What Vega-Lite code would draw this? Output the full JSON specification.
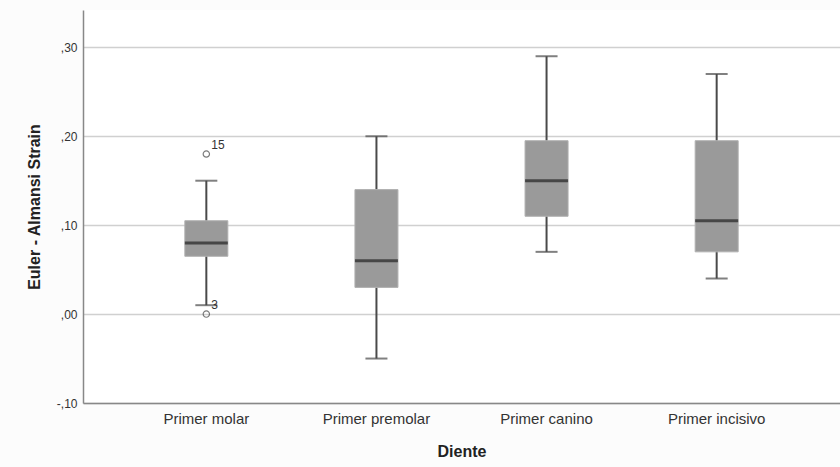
{
  "$schema": "https://vega.github.io/schema/vega-lite/v6.json",
  "autosize": "none",
  "width": 757,
  "height": 393,
  "padding": {"left": 83, "top": 10, "right": 0, "bottom": 64},
  "background": "#fcfcfc",
  "config": {
    "view": {"stroke": null, "fill": "#ffffff"},
    "font": "Liberation Sans"
  },
  "datasets": {
    "boxes": [
      {"Diente": "Primer molar", "min": 0.01, "q1": 0.065, "median": 0.08, "q3": 0.105, "max": 0.15},
      {"Diente": "Primer premolar", "min": -0.05, "q1": 0.03, "median": 0.06, "q3": 0.14, "max": 0.20},
      {"Diente": "Primer canino", "min": 0.07, "q1": 0.11, "median": 0.15, "q3": 0.195, "max": 0.29},
      {"Diente": "Primer incisivo", "min": 0.04, "q1": 0.07, "median": 0.105, "q3": 0.195, "max": 0.27}
    ],
    "outliers": [
      {"Diente": "Primer molar", "value": 0.18, "label": "15"},
      {"Diente": "Primer molar", "value": 0.0, "label": "3"}
    ]
  },
  "encoding": {
    "x": {
      "field": "Diente",
      "type": "nominal",
      "sort": ["Primer molar", "Primer premolar", "Primer canino", "Primer incisivo"],
      "scale": {"paddingInner": 0, "paddingOuter": 0.225},
      "axis": {
        "title": "Diente",
        "titleFontSize": 16,
        "titleFontWeight": "bold",
        "titleColor": "#222222",
        "titlePadding": 17,
        "labelAngle": 0,
        "labelFontSize": 15,
        "labelColor": "#333333",
        "labelPadding": 8,
        "ticks": false,
        "domainColor": "#888888",
        "domainWidth": 1.5,
        "grid": false
      }
    }
  },
  "layer": [
    {
      "data": {"name": "boxes"},
      "mark": {"type": "rule", "color": "#4a4a4a", "strokeWidth": 2},
      "encoding": {
        "y": {
          "field": "min",
          "type": "quantitative",
          "scale": {"domain": [-0.1, 0.342], "nice": false, "zero": false},
          "axis": {
            "title": "Euler - Almansi Strain",
            "titleFontSize": 16,
            "titleFontWeight": "bold",
            "titleColor": "#222222",
            "titlePadding": 14,
            "values": [-0.1, 0, 0.1, 0.2, 0.3],
            "labelExpr": "replace(replace(format(datum.value, '.2f'), '0.', ','), '\u2212', '-')",
            "labelFontSize": 12,
            "labelColor": "#333333",
            "labelPadding": 6,
            "ticks": false,
            "domainColor": "#888888",
            "domainWidth": 1.5,
            "grid": true,
            "gridColor": "#d0d0d0",
            "gridWidth": 1.5
          }
        },
        "y2": {"field": "max"}
      }
    },
    {
      "data": {"name": "boxes"},
      "mark": {"type": "tick", "color": "#4a4a4a", "thickness": 2, "size": 22, "orient": "horizontal"},
      "encoding": {"y": {"field": "max", "type": "quantitative"}}
    },
    {
      "data": {"name": "boxes"},
      "mark": {"type": "tick", "color": "#4a4a4a", "thickness": 2, "size": 22, "orient": "horizontal"},
      "encoding": {"y": {"field": "min", "type": "quantitative"}}
    },
    {
      "data": {"name": "boxes"},
      "mark": {"type": "bar", "size": 43, "color": "#9a9a9a", "stroke": "#b0b0b0", "strokeWidth": 1},
      "encoding": {
        "y": {"field": "q1", "type": "quantitative"},
        "y2": {"field": "q3"}
      }
    },
    {
      "data": {"name": "boxes"},
      "mark": {"type": "tick", "color": "#222222", "thickness": 3, "size": 43, "orient": "horizontal"},
      "encoding": {"y": {"field": "median", "type": "quantitative"}}
    },
    {
      "data": {"name": "outliers"},
      "mark": {"type": "point", "shape": "circle", "filled": false, "size": 40, "color": "#444444", "strokeWidth": 1.2},
      "encoding": {"y": {"field": "value", "type": "quantitative"}}
    },
    {
      "data": {"name": "outliers"},
      "mark": {"type": "text", "align": "left", "baseline": "middle", "dx": 5, "dy": -9, "fontSize": 12, "color": "#333333"},
      "encoding": {
        "y": {"field": "value", "type": "quantitative"},
        "text": {"field": "label"}
      }
    }
  ]
}
